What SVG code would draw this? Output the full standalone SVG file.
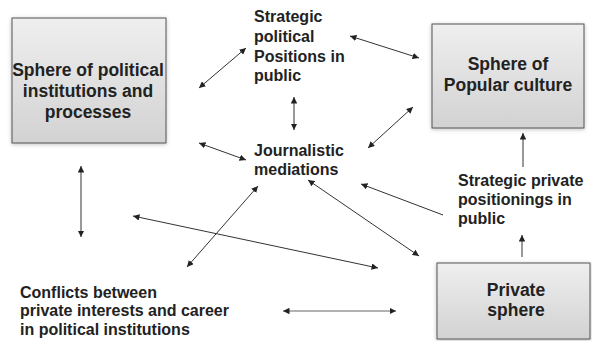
<svg xmlns="http://www.w3.org/2000/svg" width="592" height="341" viewBox="0 0 592 341">
<defs>
<linearGradient id="g" x1="0" y1="0" x2="0" y2="1">
<stop offset="0" stop-color="#efefef"/>
<stop offset="1" stop-color="#d2d2d2"/>
</linearGradient>
<filter id="sh" x="-10%" y="-10%" width="120%" height="120%">
<feGaussianBlur in="SourceAlpha" stdDeviation="2"/>
<feOffset dx="0" dy="1"/>
<feComponentTransfer><feFuncA type="linear" slope="0.25"/></feComponentTransfer>
<feMerge><feMergeNode/><feMergeNode in="SourceGraphic"/></feMerge>
</filter>
<marker id="ah" viewBox="0 0 10 10" refX="10" refY="5" markerWidth="6.5" markerHeight="6.5" markerUnits="userSpaceOnUse" orient="auto-start-reverse">
<path d="M0,0 L10,5 L0,10 z" fill="#222"/>
</marker>
</defs>
<style>
.box{fill:url(#g);stroke:#555;stroke-width:1;filter:url(#sh)}
.big{font-family:"Liberation Sans",Arial,sans-serif;font-weight:bold;font-size:17.5px;fill:#222;text-anchor:middle}
.lbl{font-family:"Liberation Sans",Arial,sans-serif;font-weight:bold;font-size:16px;fill:#222}
.c line{stroke:#333;stroke-width:1}
.bi{marker-start:url(#ah);marker-end:url(#ah)}
.one{marker-end:url(#ah)}
</style>
<rect width="592" height="341" fill="#fff"/>
<g id="political-sphere">
<rect class="box" x="12" y="18" width="154" height="125"/>
<text class="big" x="88" y="76">Sphere of political</text>
<text class="big" x="88" y="97">institutions and</text>
<text class="big" x="88" y="118">processes</text>
</g>
<g id="popular-culture">
<rect class="box" x="432" y="24" width="152" height="104"/>
<text class="big" x="508" y="70">Sphere of</text>
<text class="big" x="508" y="91">Popular culture</text>
</g>
<g id="private-sphere">
<rect class="box" x="437" y="263" width="153" height="76"/>
<text class="big" x="516" y="296">Private</text>
<text class="big" x="516" y="316">sphere</text>
</g>
<g id="strategic-political">
<text class="lbl" x="254" y="22">Strategic</text>
<text class="lbl" x="254" y="42">political</text>
<text class="lbl" x="254" y="62">Positions in</text>
<text class="lbl" x="254" y="81">public</text>
</g>
<g id="journalistic">
<text class="lbl" x="254" y="156">Journalistic</text>
<text class="lbl" x="254" y="175">mediations</text>
</g>
<g id="strategic-private">
<text class="lbl" x="458" y="186">Strategic private</text>
<text class="lbl" x="458" y="205">positionings in</text>
<text class="lbl" x="458" y="224">public</text>
</g>
<g id="conflicts">
<text class="lbl" x="20" y="298">Conflicts between</text>
<text class="lbl" x="20" y="316">private interests and career</text>
<text class="lbl" x="20" y="335">in political institutions</text>
</g>
<g id="connectors" class="c">
<line class="bi" x1="199" y1="88" x2="246" y2="48"/>
<line class="bi" x1="350" y1="36" x2="419" y2="58"/>
<line class="bi" x1="294" y1="97" x2="294" y2="130"/>
<line class="bi" x1="199" y1="143" x2="246" y2="160"/>
<line class="bi" x1="368" y1="148" x2="413" y2="107"/>
<line class="bi" x1="81" y1="166" x2="81" y2="237"/>
<line class="bi" x1="133" y1="216" x2="378" y2="268"/>
<line class="bi" x1="187" y1="267" x2="258" y2="186"/>
<line class="bi" x1="308" y1="180" x2="419" y2="256"/>
<line class="one" x1="443" y1="215" x2="361" y2="184"/>
<line class="one" x1="523" y1="167" x2="523" y2="133"/>
<line class="one" x1="522" y1="257" x2="522" y2="235"/>
<line class="bi" x1="283" y1="311" x2="396" y2="311" style="stroke:#666"/>
</g>
</svg>
